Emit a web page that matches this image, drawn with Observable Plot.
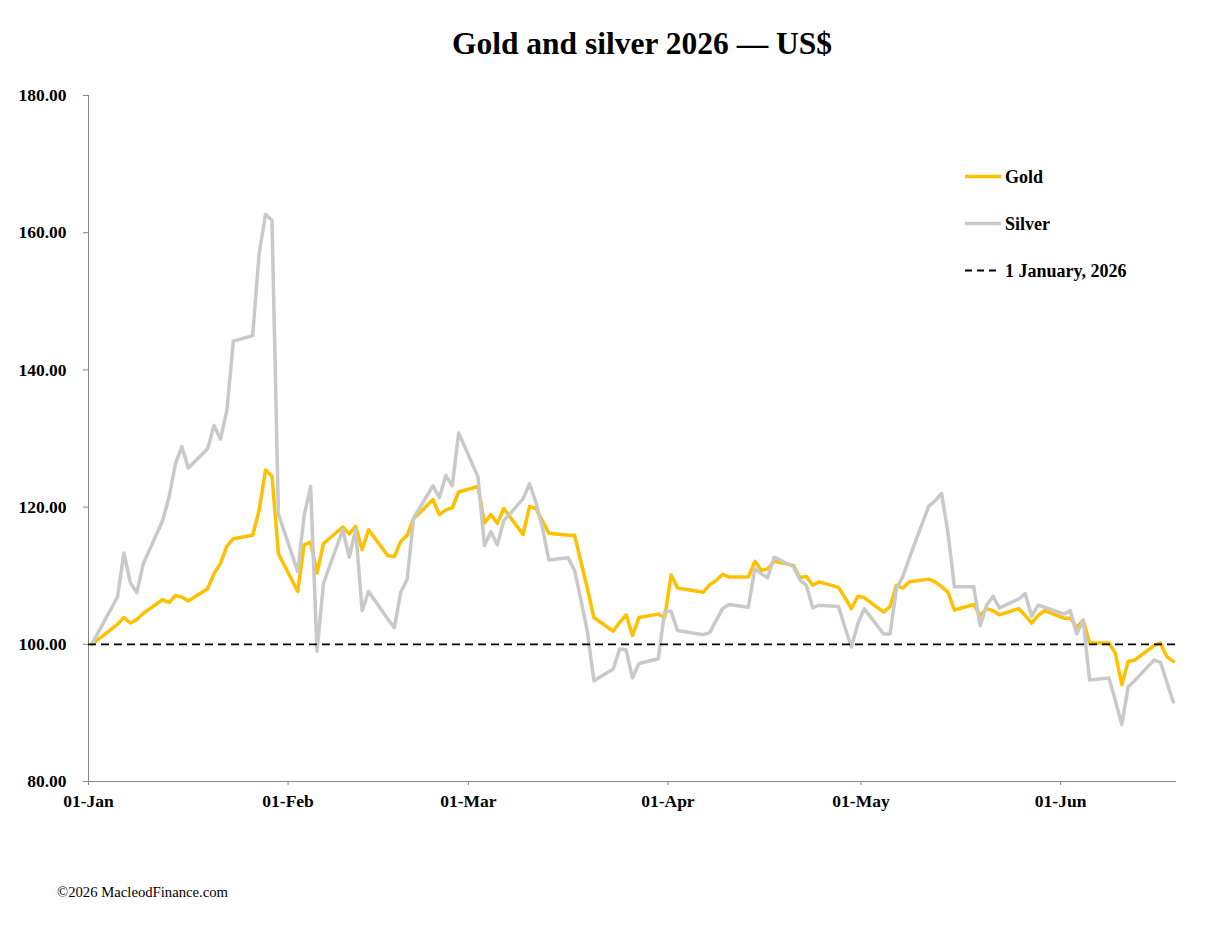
<!DOCTYPE html>
<html>
<head>
<meta charset="utf-8">
<script src="https://cdn.jsdelivr.net/npm/d3@7"></script>
<script src="https://cdn.jsdelivr.net/npm/@observablehq/plot@0.6"></script>
<style>
  body { margin: 0; background: #fff; }
  #wrap { position: relative; width: 1224px; height: 930px; font-family: "Liberation Serif", serif; }
  #overlay { position: absolute; left: 0; top: 0; pointer-events: none; }
</style>
</head>
<body>
<div id="wrap"></div>
<script>
// ---- Data (index, 1 January 2026 = 100) ----
const dates = [
  "2026-01-01","2026-01-05","2026-01-06","2026-01-07","2026-01-08","2026-01-09",
  "2026-01-12","2026-01-13","2026-01-14","2026-01-15","2026-01-16",
  "2026-01-19","2026-01-20","2026-01-21","2026-01-22","2026-01-23",
  "2026-01-26","2026-01-27","2026-01-28","2026-01-29","2026-01-30",
  "2026-02-02","2026-02-03","2026-02-04","2026-02-05","2026-02-06",
  "2026-02-09","2026-02-10","2026-02-11","2026-02-12","2026-02-13",
  "2026-02-16","2026-02-17","2026-02-18","2026-02-19","2026-02-20",
  "2026-02-23","2026-02-24","2026-02-25","2026-02-26","2026-02-27",
  "2026-03-02","2026-03-03","2026-03-04","2026-03-05","2026-03-06",
  "2026-03-09","2026-03-10","2026-03-11","2026-03-12","2026-03-13",
  "2026-03-16","2026-03-17","2026-03-18","2026-03-19","2026-03-20",
  "2026-03-23","2026-03-24","2026-03-25","2026-03-26","2026-03-27",
  "2026-03-30","2026-03-31","2026-04-01","2026-04-02",
  "2026-04-06","2026-04-07","2026-04-08","2026-04-09","2026-04-10",
  "2026-04-13","2026-04-14","2026-04-15","2026-04-16","2026-04-17",
  "2026-04-20","2026-04-21","2026-04-22","2026-04-23","2026-04-24",
  "2026-04-27","2026-04-28","2026-04-29","2026-04-30","2026-05-01",
  "2026-05-04","2026-05-05","2026-05-06","2026-05-07","2026-05-08",
  "2026-05-11","2026-05-12","2026-05-13","2026-05-14","2026-05-15",
  "2026-05-18","2026-05-19","2026-05-20","2026-05-21","2026-05-22",
  "2026-05-25","2026-05-26","2026-05-27","2026-05-28","2026-05-29",
  "2026-06-01","2026-06-02","2026-06-03","2026-06-04","2026-06-05",
  "2026-06-08","2026-06-09","2026-06-10","2026-06-11","2026-06-12",
  "2026-06-15","2026-06-16","2026-06-17","2026-06-18"
];
const gold = [
  100.0,102.9,103.9,103.1,103.6,104.5,
  106.5,106.1,107.1,106.9,106.3,
  108.1,110.3,111.8,114.3,115.4,
  115.9,119.5,125.4,124.5,113.2,
  107.7,114.5,114.9,110.4,114.7,
  117.1,116.1,117.2,113.8,116.7,
  112.9,112.8,115.0,115.9,118.3,
  121.1,118.9,119.6,119.9,122.2,
  123.0,117.7,118.9,117.6,119.8,
  116.0,120.1,119.8,118.0,116.2,
  115.9,115.9,112.0,108.1,103.9,
  101.9,103.2,104.3,101.3,103.9,
  104.4,103.9,110.1,108.2,
  107.6,108.7,109.3,110.2,109.8,
  109.8,112.1,110.8,111.0,112.1,
  111.5,109.7,109.9,108.6,109.1,
  108.3,106.8,105.2,107.0,106.8,
  104.7,105.5,108.6,108.2,109.1,
  109.5,109.1,108.4,107.6,105.0,
  105.8,104.2,105.2,104.9,104.3,
  105.2,104.2,103.1,104.2,104.9,
  103.8,103.8,102.5,103.5,100.2,
  100.2,98.7,94.1,97.5,97.7,
  99.8,100.2,98.2,97.5
];
const silver = [
  100.0,106.9,113.3,109.0,107.5,111.7,
  118.0,121.4,126.3,128.8,125.7,
  128.5,131.9,129.9,134.1,144.2,
  145.0,156.9,162.7,161.8,119.0,
  110.6,118.8,123.0,99.0,108.9,
  116.7,112.7,116.7,104.9,107.7,
  103.7,102.4,107.6,109.5,118.4,
  123.1,121.4,124.6,123.1,130.8,
  124.4,114.4,116.4,114.5,118.0,
  121.2,123.4,120.7,117.0,112.3,
  112.6,110.8,106.4,101.8,94.7,
  96.4,99.3,99.2,95.1,97.2,
  97.9,104.8,104.8,102.0,
  101.4,101.7,103.5,105.2,105.8,
  105.4,111.0,110.3,109.7,112.7,
  111.3,109.4,108.6,105.3,105.7,
  105.5,102.5,99.6,103.0,105.2,
  101.5,101.5,108.1,109.9,112.6,
  120.1,120.9,122.0,116.3,108.4,
  108.4,102.7,105.7,107.0,105.3,
  106.6,107.4,104.1,105.7,105.4,
  104.4,104.9,101.5,103.5,94.8,
  95.1,91.8,88.3,93.8,94.7,
  97.7,97.4,94.5,91.6
];
const baseline = 100;
const yTicks = [80, 100, 120, 140, 160, 180];
const monthTicks = ["2026-01-01","2026-02-01","2026-03-01","2026-04-01","2026-05-01","2026-06-01"];
const xDomain = ["2026-01-01", "2026-06-19"];
const seriesNames = ["Gold", "Silver"];
const refLabel = "1 January, 2026";
const titleText = "Gold and silver 2026 \u2014 US$";
const captionText = "\u00A92026 MacleodFinance.com";

const GOLD = "#FFC000", SILVER = "#C9C9C9", AXIS = "#868686";
const HALF_DAY = 12 * 3600 * 1000; // points sit in the middle of each day slot

const rows = dates.map((d, i) => ({ t: new Date(Date.parse(d) + HALF_DAY), gold: gold[i], silver: silver[i] }));
const fmtMonth = d3.utcFormat("%d-%b");

const chart = Plot.plot({
  width: 1224,
  height: 930,
  marginLeft: 88,
  marginRight: 48,
  marginTop: 95,
  marginBottom: 149,
  style: { fontFamily: "'Liberation Serif', serif", fontSize: "17.5px", background: "white", color: "black", overflow: "visible" },
  x: { type: "utc", domain: xDomain.map(d => new Date(d)), axis: null },
  y: { domain: [80, 180], axis: null },
  marks: [
    Plot.ruleX([new Date(xDomain[0])], { stroke: AXIS, strokeWidth: 1 }),
    Plot.ruleY([yTicks[0]], { stroke: AXIS, strokeWidth: 1 }),
    Plot.axisY(yTicks, { anchor: "left", tickSize: 5, tickPadding: 17, stroke: AXIS, fill: "black", fontWeight: "bold", tickFormat: d => d.toFixed(2), label: null }),
    Plot.axisX(monthTicks.map(d => new Date(d)), { anchor: "bottom", tickSize: 4, tickPadding: 9, stroke: AXIS, fill: "black", fontWeight: "bold", tickFormat: fmtMonth, label: null }),
    Plot.line(rows, { x: "t", y: "gold", stroke: GOLD, strokeWidth: 3.5, strokeLinejoin: "round", strokeLinecap: "round" }),
    Plot.line(rows, { x: "t", y: "silver", stroke: SILVER, strokeWidth: 3.5, strokeLinejoin: "round", strokeLinecap: "round" }),
    Plot.ruleY([baseline], { stroke: "black", strokeWidth: 1.8, strokeDasharray: "8,5" })
  ]
});
const wrap = document.getElementById("wrap");
wrap.appendChild(chart);

// Title, legend and caption overlay
const ns = "http://www.w3.org/2000/svg";
const ov = document.createElementNS(ns, "svg");
ov.setAttribute("id", "overlay");
ov.setAttribute("width", 1224);
ov.setAttribute("height", 930);
ov.style.fontFamily = "'Liberation Serif', serif";
function add(tag, attrs, text) {
  const el = document.createElementNS(ns, tag);
  for (const k in attrs) el.setAttribute(k, attrs[k]);
  if (text != null) el.textContent = text;
  ov.appendChild(el);
  return el;
}
add("text", { x: 642, y: 54, "text-anchor": "middle", "font-size": 31.5, "font-weight": "bold", fill: "black" }, titleText);
const legend = [
  { label: seriesNames[0], stroke: GOLD, dash: null, width: 3.5 },
  { label: seriesNames[1], stroke: SILVER, dash: null, width: 3.5 },
  { label: refLabel, stroke: "black", dash: "7,5", width: 1.8 }
];
legend.forEach((l, i) => {
  const y = 176.5 + i * 47;
  add("line", { x1: 965, x2: 1001, y1: y, y2: y, stroke: l.stroke, "stroke-width": l.width, "stroke-dasharray": l.dash || "none" });
  add("text", { x: 1005, y: y + 6, "font-size": 18, "font-weight": "bold", fill: "black" }, l.label);
});
add("text", { x: 57, y: 897, "font-size": 14.7, fill: "black" }, captionText);
wrap.appendChild(ov);
</script>
</body>
</html>
